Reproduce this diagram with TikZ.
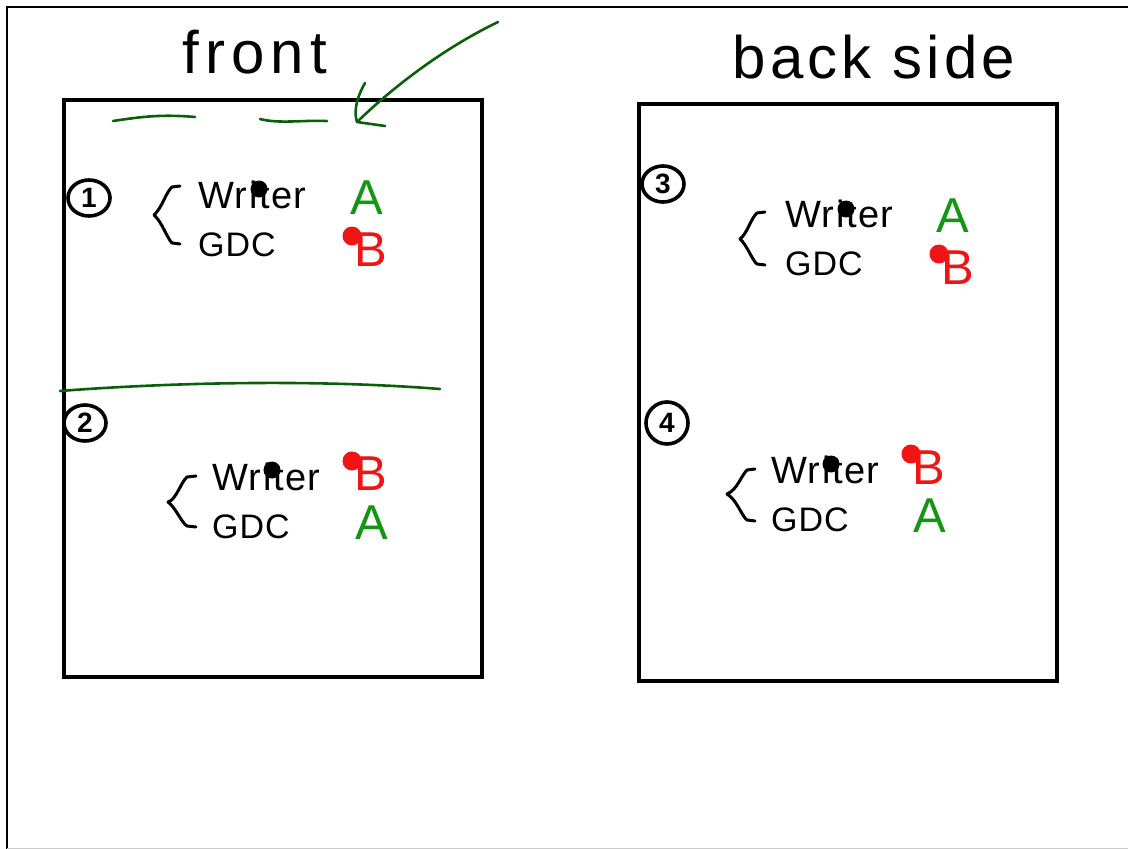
\documentclass[tikz,border=0pt]{standalone}
\usepackage{fontspec}
\setmainfont{Liberation Sans}
\usetikzlibrary{shapes.geometric}
\definecolor{dgreen}{RGB}{10,95,10}
\definecolor{lgreen}{RGB}{20,150,20}
\definecolor{pred}{RGB}{240,20,20}
\tikzset{
  frame/.style={line width=2.2pt, draw=black},
  sheet/.style={line width=3.4pt, draw=black},
  gpen/.style={line width=2.6pt, draw=dgreen, line cap=round, line join=round},
  bpen/.style={line width=3pt, draw=black, line cap=round, line join=round},
  title/.style={font=\fontsize{60}{66}\selectfont\addfontfeatures{LetterSpace=10}, inner sep=0},
  title2/.style={font=\fontsize{60}{66}\selectfont\addfontfeatures{LetterSpace=7}, inner sep=0},
  word/.style={font=\fontsize{38}{42}\selectfont\addfontfeatures{LetterSpace=4}, inner sep=0, anchor=base west},
  gdc/.style={font=\fontsize{34}{38}\selectfont\addfontfeatures{LetterSpace=3}, inner sep=0, anchor=base west},
  letA/.style={font=\fontsize{49}{52}\selectfont, text=lgreen, inner sep=0, anchor=base},
  letB/.style={font=\fontsize{49}{52}\selectfont, text=pred, inner sep=0, anchor=base},
  num/.style={ellipse, draw=black, line width=3.6pt, inner sep=0pt, minimum width=42pt, minimum height=36pt, font=\fontsize{28}{30}\selectfont\bfseries},
  bdot/.style={circle, fill=black, inner sep=0, minimum size=17pt},
  rdot/.style={circle, fill=pred, inner sep=0, minimum size=19pt},
}
\begin{document}
\begin{tikzpicture}[x=1pt,y=-1pt]
\useasboundingbox (0,0) rectangle (1128,849);
\fill[white] (0,0) rectangle (1128,849);
% outer frame
\draw[frame] (1128,7) -- (7,7) -- (7,849);
\draw[line width=1pt, draw=black!20] (7,848) -- (1128,848);
% sheets
\draw[sheet] (64,100) rectangle (482,677);
\draw[sheet] (639,104) rectangle (1057,681);
% titles
\node[title] (front) at (255,52) {front};
\node[title2] (back) at (874,57) {back side};
% green marks
\draw[gpen] (113,121) .. controls (140,117) and (160,114) .. (195,117);
\draw[gpen] (260,119) .. controls (280,124) and (300,120) .. (327,121);
\coordinate (atail) at (498,22);
\coordinate (ahead) at (357,122);
\draw[gpen] (atail) .. controls (440,50) and (390,90) .. (ahead);
\draw[gpen] (365,83) .. controls (358,95) and (353,110) .. (ahead) -- (385,126);
\draw[gpen] (60,391) .. controls (150,384) and (300,378) .. (440,389);
% section 1
\node[num] (n1) at (89,198) {1};
\draw[bpen] (180,186) -- (172,187) .. controls (166,192) and (162,208) .. (154,215) .. controls (162,222) and (167,238) .. (172,243) -- (180,244);
\node[word] (w1) at (198,208) {Writer};
\node[gdc] (g1) at (198,256) {GDC};
\node[bdot] (d1) at (259,189) {};
\node[letA] (a1) at (367,214) {A};
\node[letB] (b1) at (371,266) {B};
\node[rdot] (r1) at (352,236) {};
% section 2
\node[num] (n2) at (85,423) {2};
\draw[bpen] (196,476) -- (187,477) .. controls (181,482) and (176,500) .. (168,502) .. controls (176,508) and (181,522) .. (187,526) -- (196,527);
\node[word] (w2) at (212,490) {Writer};
\node[gdc] (g2) at (212,538) {GDC};
\node[bdot] (d2) at (272,470) {};
\node[letB] (b2) at (371,490) {B};
\node[rdot] (r2) at (352,461) {};
\node[letA] (a2) at (372,539) {A};
% section 3
\node[num] (n3) at (663,184) {3};
\draw[bpen] (765,212) -- (757,213) .. controls (751,218) and (747,234) .. (740,239) .. controls (747,245) and (752,260) .. (757,264) -- (765,265);
\node[word] (w3) at (785,227) {Writer};
\node[gdc] (g3) at (785,275) {GDC};
\node[bdot] (d3) at (846,209) {};
\node[letA] (a3) at (953,232) {A};
\node[letB] (b3) at (958,284) {B};
\node[rdot] (r3) at (939,254) {};
% section 4
\node[num, minimum height=42pt] (n4) at (667,423) {4};
\draw[bpen] (755,469) -- (747,470) .. controls (741,476) and (737,490) .. (727,494) .. controls (737,500) and (741,515) .. (747,520) -- (755,521);
\node[word] (w4) at (771,483) {Writer};
\node[gdc] (g4) at (771,531) {GDC};
\node[bdot] (d4) at (831,464) {};
\node[letB] (b4) at (929,484) {B};
\node[rdot] (r4) at (911,454) {};
\node[letA] (a4) at (930,532) {A};
\end{tikzpicture}
\end{document}
